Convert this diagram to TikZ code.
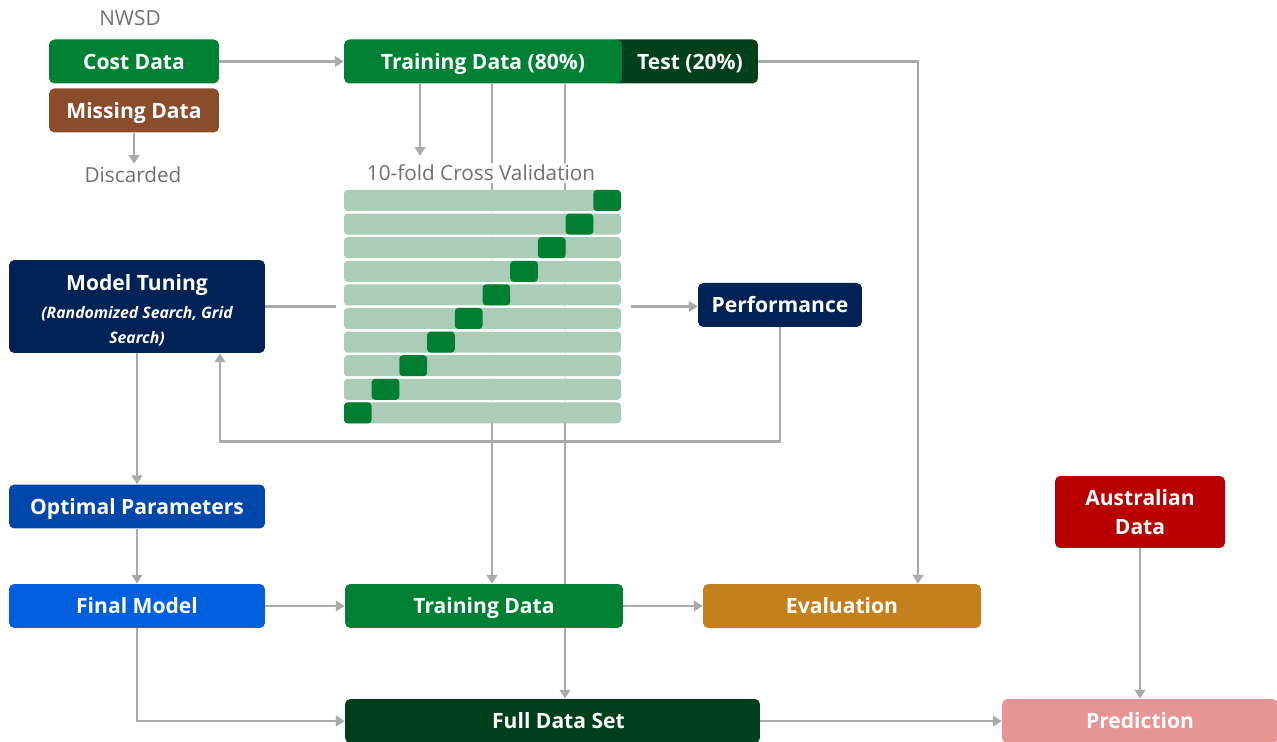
\documentclass[tikz,border=0pt]{standalone}
\usepackage{fontspec}
\setmainfont{Open Sans}
\usetikzlibrary{arrows.meta,positioning}

\definecolor{costgreen}{HTML}{008033}
\definecolor{missbrown}{HTML}{8B4C2A}
\definecolor{testgreen}{HTML}{00401A}
\definecolor{navy}{HTML}{002255}
\definecolor{optblue}{HTML}{0047AB}
\definecolor{finalblue}{HTML}{005FDD}
\definecolor{evalorange}{HTML}{C5801E}
\definecolor{ausred}{HTML}{B80000}
\definecolor{predpink}{HTML}{E69494}
\definecolor{fdsgreen}{HTML}{003F1B}
\definecolor{cvlight}{HTML}{ABCDB8}
\definecolor{cvdark}{HTML}{007F33}
\definecolor{linegray}{HTML}{AAAAAA}
\definecolor{notegray}{HTML}{707070}

\newcommand{\subnote}[1]{{\fontsize{9}{12}\selectfont\itshape #1}}

\begin{document}
\begin{tikzpicture}[x=0.02cm, y=-0.02cm,
    box/.style={rounded corners=3pt, text=white, inner sep=0pt, minimum height=0.88cm,
      text height=8.6pt, text depth=0pt, font=\bfseries\fontsize{12}{15}\selectfont},
    conn/.style={draw=linegray, line width=1.4pt},
    arr/.style={conn, -{Triangle[width=6pt,length=5pt]}},
    note/.style={text=notegray, font=\fontsize{11.8}{15}\selectfont}]
    \useasboundingbox (0,0) rectangle (1277,742);

    % Source data
    \node[note] (nwsd) at (130,18) {NWSD};
    \node[box, fill=costgreen, minimum width=3.4cm] (cost) at (134,61.5) {Cost Data};
    \node[box, fill=missbrown, minimum width=3.4cm] (missing) at (134,110.5) {Missing Data};
    \node[note] (discard) at (133,175) {Discarded};

    % Train / test split (green bar laid over the dark one)
    \node[box, fill=testgreen, minimum width=2.92cm] (test) at (685,61.5) {\hspace*{0.2cm}Test (20\%)};
    \node[box, fill=costgreen, minimum width=5.56cm] (train80) at (483,61.5) {Training Data (80\%)};

    % Tuning loop
    \node[box, fill=navy, minimum width=5.12cm, minimum height=1.86cm, align=center,
      text height=, text depth=] (tuning) at (137,306.5) {\rule{0pt}{13pt}Model Tuning\\[1pt]
      \subnote{(Randomized Search, Grid}\\[-1pt]\subnote{Search)}};
    \node[box, fill=navy, minimum width=3.28cm] (perf) at (780,305) {Performance};
    \node[inner sep=0pt, minimum width=5.54cm, minimum height=4.66cm] (cv) at (482.5,306.5) {};

    % Final fit and prediction
    \node[box, fill=optblue, minimum width=5.12cm] (optim) at (137,506.5) {Optimal Parameters};
    \node[box, fill=finalblue, minimum width=5.12cm] (final) at (137,606) {Final Model};
    \node[box, fill=costgreen, minimum width=5.56cm] (tdata) at (484,606) {Training Data};
    \node[box, fill=evalorange, minimum width=5.56cm] (eval) at (842,606) {Evaluation};
    \node[box, fill=fdsgreen, minimum width=8.3cm] (fds) at (552.5,721) {\hspace*{0.24cm}Full Data Set};
    \node[box, fill=ausred, minimum width=3.4cm, minimum height=1.44cm, align=center,
      text height=, text depth=, font=\bfseries\fontsize{12}{16.5}\selectfont]
      (aus) at (1140,512) {Australian\\Data};
    \node[box, fill=predpink, minimum width=5.52cm] (pred) at (1140,721) {Prediction};

    % Connectors
    \coordinate (s1) at (420,0);
    \coordinate (s2) at (492,0);
    \coordinate (s3) at (565,0);
    \draw[arr] (cost) -- (train80);
    \draw[arr] (missing.south) -- ++(0,31);
    \draw[arr] (test.east) -| ([xshift=1.52cm]eval.north);
    \draw[arr] (train80.south -| s1) -- ++(0,72);
    \draw[arr] (train80.south -| s2) -- (tdata.north -| s2);
    \draw[conn] (train80.south -| s3) -- (tdata.north -| s3);
    \draw[arr] (tdata.south -| s3) -- (fds.north -| s3);
    \draw[conn, shorten >=0.16cm] (tuning.east) -- (cv.west);
    \draw[arr] ([xshift=0.2cm]cv.east) -- (cv.east -| perf.west);
    \draw[arr] (perf.south) -- ++(0,114) -| ([xshift=1.66cm]tuning.south);
    \draw[arr] (tuning) -- (optim);
    \draw[arr] (optim) -- (final);
    \draw[arr] (final) -- (tdata);
    \draw[arr] (tdata) -- (eval);
    \draw[arr] (final.south) |- (fds.west);
    \draw[arr] (fds) -- (pred);
    \draw[arr] (aus) -- (pred);

    % 10-fold grid, one held-out block per row
    \fill[white, opacity=0.85] (cv.north west) rectangle (cv.south east);
    \foreach \i in {0,...,9} {
        \fill[cvlight, rounded corners=2pt] (344,{190+23.6*\i}) rectangle ++(277,21);
        \fill[cvdark, rounded corners=2pt] ({344+27.7*(9-\i)},{190+23.6*\i}) rectangle ++(27.7,21);
    }
    \node[note, fill=white, fill opacity=0.8, text opacity=1, inner sep=1pt] (cvlabel) at (481,173)
      {10-fold Cross Validation};
\end{tikzpicture}
\end{document}
